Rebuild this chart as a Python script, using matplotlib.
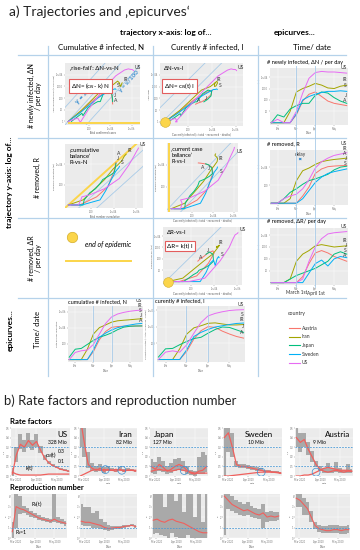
import matplotlib
matplotlib.use('Agg')
import matplotlib.pyplot as plt
from matplotlib.lines import Line2D
import numpy as np

# ---------------- data ----------------
countries = ['Austria', 'Iran', 'Japan', 'Sweden', 'US']
short_labels = ['A', 'IR', 'J', 'S', 'US']
country_colors = ['#F8766D', '#A3A500', '#00BF7D', '#00B0F6', '#E76BF3']

days = [0, 10, 20, 30, 40, 50, 60, 70, 80, 90, 100, 110, 120]   # days since 22 Jan
month_ticks = [10, 39, 70, 100]
month_labels = ['Feb', 'Mar', 'Apr', 'May']
marker_days = [39, 70]          # March 1st, April 1st
marker_labels = ['March 1st', 'April 1st']

# log10 cumulative infected N
N_austria = [0, 0, 0, 0, 1.0, 2.5, 3.5, 4.03, 4.13, 4.17, 4.19, 4.2, 4.21]
N_iran = [0, 0, 0, 1.3, 3.2, 4.0, 4.33, 4.68, 4.85, 4.92, 4.98, 5.05, 5.11]
N_japan = [0.3, 1.3, 1.4, 1.9, 2.4, 2.8, 3.04, 3.34, 3.74, 4.05, 4.16, 4.2, 4.21]
N_sweden = [0, 0, 0, 0, 1.2, 2.8, 3.3, 3.7, 3.99, 4.18, 4.32, 4.45, 4.52]
N_us = [0, 0.9, 1.1, 1.2, 1.9, 3.2, 4.5, 5.33, 5.7, 5.9, 6.04, 6.13, 6.2]

# log10 currently infected I
I_austria = [0, 0, 0, 0, 1.0, 2.5, 3.5, 4.0, 3.9, 3.45, 3.1, 2.8, 2.6]
I_iran = [0, 0, 0, 1.3, 3.1, 3.85, 4.1, 4.4, 4.45, 4.32, 4.2, 4.2, 4.25]
I_japan = [0.3, 1.3, 1.35, 1.8, 2.2, 2.55, 2.7, 3.2, 3.65, 3.95, 3.9, 3.6, 3.3]
I_sweden = [0, 0, 0, 0, 1.2, 2.8, 3.3, 3.65, 3.95, 4.1, 4.25, 4.38, 4.43]
I_us = [0, 0.9, 1.05, 0.9, 1.8, 3.2, 4.5, 5.3, 5.6, 5.8, 5.95, 6.02, 6.05]

# log10 newly infected per day dN
dN_austria = [0, 0, 0, 0, 0.7, 1.9, 2.5, 2.7, 2.3, 1.9, 1.7, 1.6, 1.5]
dN_iran = [0, 0, 0, 1.0, 2.7, 3.0, 3.2, 3.45, 3.3, 3.05, 3.0, 3.2, 3.3]
dN_japan = [0, 0.7, 0.5, 1.2, 1.5, 1.7, 1.7, 2.4, 2.7, 2.6, 2.2, 1.9, 1.7]
dN_sweden = [0, 0, 0, 0, 0.8, 2.0, 2.3, 2.5, 2.65, 2.75, 2.75, 2.8, 2.75]
dN_us = [0, 0.3, 0, 0, 1.0, 2.6, 3.9, 4.4, 4.5, 4.45, 4.45, 4.4, 4.35]

# log10 removed R
R_austria = [0, 0, 0, 0, 0, 0.8, 1.8, 3.3, 3.8, 4.05, 4.12, 4.16, 4.18]
R_iran = [0, 0, 0, 0.5, 2.5, 3.6, 3.9, 4.3, 4.6, 4.75, 4.85, 4.92, 5.0]
R_japan = [0, 0, 0.5, 1.2, 1.6, 2.1, 2.5, 2.7, 2.95, 3.2, 3.7, 4.0, 4.1]
R_sweden = [0, 0, 0, 0, 0, 0.5, 1.4, 2.3, 2.9, 3.3, 3.5, 3.65, 3.8]
R_us = [0, 0, 0.5, 0.8, 1.0, 1.6, 2.6, 3.9, 4.6, 5.0, 5.3, 5.45, 5.6]

# log10 removed per day dR
dR_austria = [0, 0, 0, 0, 0, 0.5, 1.6, 2.5, 2.7, 2.5, 2.2, 2.0, 1.8]
dR_iran = [0, 0, 0, 0.3, 1.8, 2.4, 2.7, 3.1, 3.2, 3.1, 3.0, 3.05, 3.1]
dR_japan = [0, 0, 0, 0.3, 0.6, 0.8, 1.0, 1.2, 1.5, 1.8, 2.4, 2.6, 2.4]
dR_sweden = [0, 0, 0, 0, 0, 0, 0.8, 1.6, 1.9, 1.4, 2.0, 2.2, 2.1]
dR_us = [0, 0, 0, 0, 0, 0.3, 1.8, 3.0, 3.7, 4.1, 4.2, 4.25, 4.3]

end_point = (0, 0)

# ---- part b: rate factors and reproduction number ----
b_countries = ['US', 'Iran', 'Japan', 'Sweden', 'Austria']
b_population = ['328 Mio', '82 Mio', '127 Mio', '10 Mio', '9 Mio']
rate_days = [0, 6, 12, 18, 24, 30, 36, 42, 48, 54, 60, 66, 72, 78, 84]
rate_ticks = [5, 36, 66]
rate_tick_labels = ['Mar 2020', 'Apr 2020', 'May 2020']
rate_levels = [0.3, 0.1]

c_us = [0.02, 0.22, 0.33, 0.30, 0.37, 0.32, 0.36, 0.27, 0.19, 0.14, 0.11, 0.09, 0.07, 0.06, 0.05]
k_us = [0.04, 0.02, 0.01, 0.01, 0.01, 0.01, 0.01, 0.01, 0.015, 0.02, 0.02, 0.02, 0.02, 0.02, 0.02]
clo_us = [0.0, 0.15, 0.28, 0.25, 0.30, 0.27, 0.30, 0.24, 0.17, 0.12, 0.10, 0.08, 0.06, 0.05, 0.04]
chi_us = [0.08, 0.30, 0.44, 0.38, 0.45, 0.38, 0.44, 0.31, 0.22, 0.16, 0.12, 0.10, 0.08, 0.07, 0.06]

c_iran = [0.60, 0.35, 0.12, 0.08, 0.06, 0.08, 0.05, 0.07, 0.06, 0.05, 0.07, 0.05, 0.06, 0.06, 0.05]
k_iran = [0.0, 0.02, 0.04, 0.06, 0.07, 0.06, 0.07, 0.06, 0.06, 0.07, 0.06, 0.06, 0.06, 0.06, 0.06]
clo_iran = [0.30, 0.20, 0.08, 0.05, 0.04, 0.05, 0.03, 0.05, 0.05, 0.04, 0.06, 0.04, 0.05, 0.05, 0.04]
chi_iran = [0.60, 0.60, 0.25, 0.14, 0.10, 0.12, 0.09, 0.10, 0.08, 0.07, 0.09, 0.07, 0.08, 0.07, 0.06]

c_japan = [0.10, 0.07, 0.12, 0.09, 0.05, 0.07, 0.10, 0.12, 0.10, 0.06, 0.03, 0.02, 0.05, 0.06, 0.10]
k_japan = [0.05, 0.06, 0.07, 0.06, 0.06, 0.05, 0.06, 0.07, 0.06, 0.05, 0.04, 0.03, 0.03, 0.03, 0.03]
clo_japan = [0.03, 0.02, 0.05, 0.04, 0.02, 0.03, 0.05, 0.06, 0.05, 0.02, 0.01, 0.0, 0.02, 0.02, 0.04]
chi_japan = [0.18, 0.15, 0.20, 0.16, 0.10, 0.14, 0.18, 0.19, 0.16, 0.10, 0.06, 0.05, 0.20, 0.25, 0.22]

c_sweden = [0.40, 0.45, 0.30, 0.12, 0.10, 0.10, 0.09, 0.08, 0.07, 0.06, 0.05, 0.05, 0.04, 0.04, 0.03]
k_sweden = [0.0, 0.0, 0.005, 0.01, 0.015, 0.02, 0.025, 0.03, 0.035, 0.04, 0.04, 0.04, 0.04, 0.035, 0.03]
clo_sweden = [0.0, 0.25, 0.20, 0.09, 0.08, 0.08, 0.07, 0.06, 0.05, 0.05, 0.04, 0.04, 0.03, 0.03, 0.02]
chi_sweden = [0.5, 0.5, 0.45, 0.16, 0.12, 0.12, 0.11, 0.10, 0.09, 0.08, 0.06, 0.06, 0.05, 0.05, 0.04]

c_austria = [0.40, 0.35, 0.38, 0.28, 0.20, 0.12, 0.07, 0.05, 0.04, 0.05, 0.06, 0.05, 0.04, 0.05, 0.05]
k_austria = [0.0, 0.0, 0.01, 0.01, 0.02, 0.04, 0.06, 0.08, 0.09, 0.08, 0.07, 0.06, 0.06, 0.06, 0.05]
clo_austria = [0.30, 0.25, 0.30, 0.22, 0.15, 0.09, 0.05, 0.03, 0.03, 0.03, 0.04, 0.03, 0.03, 0.03, 0.03]
chi_austria = [0.50, 0.45, 0.45, 0.35, 0.26, 0.16, 0.10, 0.08, 0.14, 0.08, 0.15, 0.08, 0.06, 0.12, 0.07]

crossings_us = []
crossings_iran = [38, 63]
crossings_japan = [50]
crossings_sweden = [55]
crossings_austria = [30]

Rt_us = [0.6, 3.0, 2.8, 2.7, 2.5, 2.3, 2.1, 1.9, 1.8, 1.7, 1.6, 1.8, 1.6, 1.5, 1.4]
Rlo_us = [0.0, 1.0, 2.3, 2.4, 2.2, 2.0, 1.9, 1.7, 1.6, 1.5, 1.4, 1.5, 1.4, 1.3, 1.1]
Rhi_us = [1.5, 4.2, 4.0, 3.1, 2.9, 2.6, 2.4, 2.2, 2.0, 1.9, 1.8, 4.2, 2.0, 1.8, 1.6]
Rt_iran = [1.6, 1.5, 1.5, 1.4, 1.3, 1.2, 1.0, 0.9, 0.95, 1.0, 1.0, 1.1, 1.15, 1.2, 1.1]
Rlo_iran = [1.2, 1.1, 1.1, 1.0, 1.0, 0.9, 0.8, 0.7, 0.8, 0.85, 0.9, 1.0, 1.05, 1.1, 1.0]
Rhi_iran = [3.2, 3.0, 3.0, 2.4, 2.6, 1.8, 1.5, 1.2, 1.1, 1.1, 1.1, 1.2, 1.25, 1.3, 1.2]
Rt_japan = [1.7, 1.8, 1.6, 1.5, 1.7, 1.8, 1.6, 1.5, 1.4, 1.2, 1.0, 0.8, 0.6, 0.5, 0.5]
Rlo_japan = [0.4, 0.5, 0.3, 0.2, 0.0, 0.5, 0.1, 0.0, 0.0, 0.3, 0.0, 0.0, 0.0, 0.0, 0.0]
Rhi_japan = [4.2, 4.2, 4.2, 3.0, 4.2, 4.2, 3.5, 4.2, 2.5, 4.2, 4.2, 2.0, 4.2, 1.5, 4.2]
Rt_sweden = [4.0, 3.6, 3.2, 3.0, 2.8, 2.6, 2.7, 2.5, 2.3, 2.2, 2.4, 2.0, 2.1, 2.0, 2.1]
Rlo_sweden = [0.3, 2.8, 2.6, 2.4, 2.2, 2.1, 2.2, 2.0, 1.9, 1.8, 1.0, 1.5, 1.6, 1.6, 1.7]
Rhi_sweden = [4.2, 4.2, 4.0, 3.6, 3.4, 3.2, 3.4, 3.1, 2.9, 2.8, 3.2, 2.5, 2.6, 2.5, 2.5]
Rt_austria = [3.8, 3.6, 3.2, 2.8, 2.0, 1.2, 0.9, 0.8, 0.7, 0.7, 0.8, 0.8, 0.7, 0.8, 0.8]
Rlo_austria = [3.0, 3.0, 2.2, 2.2, 1.5, 0.9, 0.6, 0.5, 0.5, 0.5, 0.5, 0.5, 0.4, 0.4, 0.5]
Rhi_austria = [4.2, 4.2, 3.8, 3.4, 2.6, 1.5, 1.2, 1.1, 1.1, 1.2, 1.2, 1.2, 1.1, 1.1, 1.2]
R_threshold = 1.0

# ---------------- figure ----------------
plt.rcParams['font.family'] = ['Lato', 'DejaVu Sans']
W, H = 360, 550
fig = plt.figure(figsize=(W / 100, H / 100), dpi=100)
fig.patch.set_facecolor('white')

GRID_BLUE = '#b5d2ea'
DIAG_BLUE = '#a8cbe8'
TXT_BLUE = '#3b8fd0'
PANEL_BG = '#ebebeb'
YELLOW = '#fbd54a'
YELLOW_EDGE = '#d4ae2a'
RED = '#f0605d'


def axp(x0, y0, x1, y1):
    return fig.add_axes([x0 / W, 1 - y1 / H, (x1 - x0) / W, (y1 - y0) / H])


def ftext(x, y, s, **kw):
    return fig.text(x / W, 1 - y / H, s, **kw)


def fline(xs, ys, **kw):
    fig.add_artist(Line2D([x / W for x in xs], [1 - y / H for y in ys],
                          transform=fig.transFigure, **kw))


def style(ax, xlabel='', ylabel=''):
    ax.set_facecolor(PANEL_BG)
    for s in ax.spines.values():
        s.set_visible(False)
    ax.grid(True, color='white', lw=0.35)
    ax.set_axisbelow(True)
    ax.tick_params(labelsize=1.8, length=0.8, width=0.3, pad=0.6, colors='#777777')
    ax.set_xlabel(xlabel, fontsize=2, labelpad=0.4, color='#555555')
    ax.set_ylabel(ylabel, fontsize=1.7, labelpad=0.5, color='#555555')


def log_ticks(ax, axis, vals):
    labs = ['1e+%02d' % v if v >= 4 else str(int(10 ** v)) for v in vals]
    if axis == 'x':
        ax.set_xticks(vals)
        ax.set_xticklabels(labs)
    else:
        ax.set_yticks(vals)
        ax.set_yticklabels(labs)


def place(xf, yf, gap, xgap):
    """push label positions (axes fractions) upward to avoid collisions"""
    order = np.argsort(yf)
    out = np.array(yf, dtype=float)
    placed = []
    for i in order:
        y = out[i]
        for j in sorted(placed, key=lambda q: out[q]):
            if abs(xf[i] - xf[j]) < xgap and y < out[j] + gap and y > out[j] - gap:
                y = out[j] + gap
        out[i] = y
        placed.append(i)
    return out


def traj(ax, xs_list, ys_list, xlim, ylim, wpx, hpx, dx=0.12, dy=1.0):
    ax.set_xlim(*xlim)
    ax.set_ylim(*ylim)
    for xs, ys, c in zip(xs_list, ys_list, country_colors):
        ax.plot(xs, ys, color=c, lw=0.7, solid_joinstyle='round')
    lx = [(xs[-1] - xlim[0]) / (xlim[1] - xlim[0]) for xs in xs_list]
    ly = [(ys[-1] - ylim[0]) / (ylim[1] - ylim[0]) + dy / hpx for ys in ys_list]
    pos = place(lx, ly, 4.5 / hpx, 6.0 / wpx)
    tr = ax.get_xaxis_transform()
    for xs, p, lab in zip(xs_list, pos, short_labels):
        ax.text(xs[-1] + dx, p, lab, transform=tr, fontsize=3.6, color='#333333',
                ha='left', va='bottom')


def epi(ax, ys_list, ylim, yt, hpx):
    for ys, c in zip(ys_list, country_colors):
        ax.plot(days, ys, color=c, lw=0.7)
    ax.set_xlim(-2, 122)
    ax.set_ylim(*ylim)
    last = [(ys[-1] - ylim[0]) / (ylim[1] - ylim[0]) + 3.0 / hpx for ys in ys_list]
    pos = place([1.0] * len(last), last, 5.0 / hpx, 1.0)
    for p, lab in zip(pos, short_labels):
        ax.text(0.985, p, lab, transform=ax.transAxes, fontsize=3.6, color='#333333',
                ha='right', va='bottom')
    ax.set_xticks(month_ticks)
    ax.set_xticklabels(month_labels)
    log_ticks(ax, 'y', yt)


def end_circle(ax):
    ax.plot([end_point[0]], [end_point[1]], marker='o', ms=7, mfc=YELLOW,
            mec=YELLOW_EDGE, mew=0.4, clip_on=False, zorder=5)


def diag(ax, offsets):
    for o in offsets:
        ax.axline((0, o), slope=1, color=DIAG_BLUE, lw=0.6, zorder=1)


def redbox(ax, x, y, s):
    ax.text(x, y, s, transform=ax.transAxes, fontsize=4.5, va='center', ha='left',
            bbox=dict(boxstyle='square,pad=0.35', fc='white', ec='#e35d5d', lw=0.8))


def intext(ax, x, y, s, fs=4.3):
    ax.text(x, y, s, transform=ax.transAxes, fontsize=fs, va='top', ha='left', linespacing=1.35)


Ns = [N_austria, N_iran, N_japan, N_sweden, N_us]
Is = [I_austria, I_iran, I_japan, I_sweden, I_us]
dNs = [dN_austria, dN_iran, dN_japan, dN_sweden, dN_us]
Rs = [R_austria, R_iran, R_japan, R_sweden, R_us]
dRs = [dR_austria, dR_iran, dR_japan, dR_sweden, dR_us]

# ---------- headers & grid ----------
ftext(9, 12, 'a) Trajectories and \u201aepicurves\u2018', fontsize=10.0, va='center', ha='left', color='#222222')
ftext(166, 33, 'trajectory x-axis: log of...', fontsize=6.0, fontweight='bold', ha='center', va='center')
ftext(295, 33, 'epicurves...', fontsize=6.0, fontweight='bold', ha='center', va='center')
ftext(101, 47.5, 'Cumulative # infected, N', fontsize=5.7, ha='center', va='center')
ftext(207, 47, 'Curently # infected, I', fontsize=5.7, ha='center', va='center')
ftext(312, 47.5, 'Time/ date', fontsize=5.7, ha='center', va='center')

for yy in [55, 138, 218, 298]:
    fline([18, 346], [yy, yy], color=GRID_BLUE, lw=0.9)
for xx in [48, 153, 258]:
    fline([xx, xx], [46, 376], color=GRID_BLUE, lw=0.9)

ftext(10, 182, 'trajectory y-axis: log of...', fontsize=6.0, fontweight='bold', rotation=90, ha='center', va='center')
ftext(10, 330, 'epicurves...', fontsize=6.0, fontweight='bold', rotation=90, ha='center', va='center')
ftext(35, 96, '# newly infected, \u0394N\n/ per day', fontsize=5.0, rotation=90, ha='center', va='center', linespacing=1.1)
ftext(37, 178, '# removed, R', fontsize=5.0, rotation=90, ha='center', va='center')
ftext(35, 258, '# removed, \u0394R\n/ per day', fontsize=5.0, rotation=90, ha='center', va='center', linespacing=1.1)
ftext(37, 330, 'Time/ date', fontsize=5.5, rotation=90, ha='center', va='center')

# ---------- row 1 ----------
ax = axp(65, 63, 140, 125)
style(ax, 'Total confirmed cases', 'New confirmed cases (7-day mean)')
diag(ax, [1.5, 0, -2])
ax.axhline(-0.15, xmin=0.05, xmax=1, color=YELLOW, lw=1.4, zorder=2)
traj(ax, Ns, dNs, (-0.3, 6.8), (-0.3, 5.0), 75, 62)
log_ticks(ax, 'x', [2, 4, 6]); log_ticks(ax, 'y', [0, 1, 2, 3, 4])
ax.text(1.0, 1.5, 'y = x', color=TXT_BLUE, fontsize=5, fontweight='bold', rotation=45,
        transform_rotates_text=True, rotation_mode='anchor')
ax.text(5.0, 2.5, 'y = x/100', color=TXT_BLUE, fontsize=4.5, fontweight='bold', rotation=45,
        transform_rotates_text=True, rotation_mode='anchor')
intext(ax, 0.06, 0.95, '\u201arise-fall\u2018: \u0394N-vs-N')
redbox(ax, 0.08, 0.63, '\u0394N= (c$_N$- k) N')

ax = axp(160, 63, 243, 126)
style(ax, 'Currently infected (= total - recovered - deaths)', 'New cases')
diag(ax, [1.6, 0.2])
traj(ax, Is, dNs, (-0.4, 6.6), (-0.35, 5.0), 83, 63)
end_circle(ax)
log_ticks(ax, 'x', [2, 4, 6]); log_ticks(ax, 'y', [0, 1, 2, 3, 4])
intext(ax, 0.05, 0.95, '\u0394N-vs-I')
redbox(ax, 0.05, 0.63, '\u0394N= c$_N$(t) I')

ax = axp(270, 68, 348, 125)
style(ax, 'Date', 'New confirmed cases per day (log)')
epi(ax, dNs, (-0.2, 4.8), [1, 2, 3, 4], 57)
ftext(267, 62.5, '# newly infected, \u0394N / per day', fontsize=4.1, ha='left', va='center')
col3_axes = [ax]

# ---------- row 2 ----------
ax = axp(65, 144, 143, 208)
style(ax, 'Total number cumulative', 'Removed cumulative (log)')
diag(ax, [-1.2, -2.8])
ax.axline((0, 0), slope=1, color=YELLOW, lw=1.4, zorder=2)
traj(ax, Ns, Rs, (-0.3, 6.6), (-0.3, 6.0), 78, 64)
log_ticks(ax, 'x', [2, 4, 6]); log_ticks(ax, 'y', [2, 4])
intext(ax, 0.06, 0.95, '\u201acumulative\nbalance\u2018\nR-vs-N')

ax = axp(167, 143, 238, 212)
style(ax, 'Currently infected (= total - recovered - deaths)', 'Removed cumulative (log)')
diag(ax, [0.3, -1.2])
ax.axvline(-0.2, color=YELLOW, lw=1.4, zorder=2)
traj(ax, Is, Rs, (-0.4, 6.4), (-0.3, 6.0), 71, 69, dx=0.25, dy=-7.0)
log_ticks(ax, 'x', [2, 4, 6]); log_ticks(ax, 'y', [2, 4])
intext(ax, 0.06, 0.95, '\u201acurrent case\nballance\u2018\nR-vs-I', fs=4.1)

ax = axp(270, 150, 348, 205)
style(ax, 'Date', 'Removed cumulative (log)')
epi(ax, Rs, (-0.2, 5.9), [2, 4], 55)
ax.annotate('', xy=(53, 4.9), xytext=(39, 4.9),
            arrowprops=dict(arrowstyle='<->', color=TXT_BLUE, lw=0.6, mutation_scale=3))
ax.text(46, 5.15, 'delay', fontsize=3.4, ha='center', va='bottom', color='#333333')
ftext(267, 144, '# removed, R', fontsize=4.1, ha='left', va='center')
col3_axes.append(ax)

# ---------- row 3 ----------
fig.add_artist(Line2D([72 / W], [1 - 237 / H], marker='o', ms=7.5, mfc=YELLOW, mec=YELLOW_EDGE,
                      mew=0.5, transform=fig.transFigure))
ftext(85, 244, 'end of epidemic', fontsize=5.0, style='italic', ha='left', va='center')
fline([66, 131], [261, 261], color=YELLOW, lw=1.4)

ax = axp(163, 227, 242, 285)
style(ax, 'Currently infected (= total - recovered - deaths)', 'Removed per day (log)')
diag(ax, [0.2])
traj(ax, Is, dRs, (-0.4, 6.4), (-0.3, 4.8), 79, 58)
end_circle(ax)
log_ticks(ax, 'x', [2, 4, 6]); log_ticks(ax, 'y', [1, 2, 3, 4])
intext(ax, 0.05, 0.95, '\u0394R-vs-I')
redbox(ax, 0.05, 0.67, '\u0394R= k(t) I')

ax = axp(270, 228, 348, 285)
style(ax, '', 'Removed per day (log)')
epi(ax, dRs, (-0.2, 4.6), [1, 2, 3, 4], 57)
ftext(267, 222, '# removed, \u0394R/ per day', fontsize=4.1, ha='left', va='center')
col3_axes.append(ax)

# continuous date marker lines through column 3
x0, x1 = col3_axes[0].get_xlim()
for d, lab in zip(marker_days, marker_labels):
    xf = (270 + (d - x0) / (x1 - x0) * 78)
    fline([xf, xf], [66, 287], color=DIAG_BLUE, lw=0.6)
    ftext(xf + 1, 293, lab, fontsize=3.4, ha='center', va='center', color='#333333')

# ---------- row 4 ----------
ax = axp(68, 306, 143, 362)
style(ax, 'Date', 'Total number cumulative')
epi(ax, Ns, (-0.3, 6.7), [2, 4, 6], 56)
for d in marker_days:
    ax.axvline(d, color=DIAG_BLUE, lw=0.6)
ftext(68, 302, 'cumulative # infected, N', fontsize=4.0, ha='left', va='center')

ax = axp(157, 306, 245, 362)
style(ax, 'Date', 'Currently infected (= total - recovered - deaths)')
epi(ax, Is, (-0.3, 6.5), [2, 4, 6], 56)
for d in marker_days:
    ax.axvline(d, color=DIAG_BLUE, lw=0.6)
ftext(155, 302, 'curently # infected, I', fontsize=4.0, ha='left', va='center')

# legend
ftext(288, 313, 'country', fontsize=3.8, ha='left', va='center', color='#333333')
for j, (name, col) in enumerate(zip(countries, country_colors)):
    yy = 328 + j * 8.7
    fline([289, 300], [yy, yy], color=col, lw=0.8)
    ftext(302, yy, name, fontsize=3.6, ha='left', va='center', color='#333333')

# ---------- part b ----------
ftext(4, 401, 'b) Rate factors and reproduction number', fontsize=9.4, ha='left', va='center', color='#222222')
ftext(10, 422, 'Rate factors', fontsize=5.6, fontweight='bold', ha='left', va='center')
ftext(10, 487.5, 'Reproduction number', fontsize=5.4, fontweight='bold', ha='left', va='center')

rate_c = [c_us, c_iran, c_japan, c_sweden, c_austria]
rate_k = [k_us, k_iran, k_japan, k_sweden, k_austria]
rate_lo = [clo_us, clo_iran, clo_japan, clo_sweden, clo_austria]
rate_hi = [chi_us, chi_iran, chi_japan, chi_sweden, chi_austria]
crossings = [crossings_us, crossings_iran, crossings_japan, crossings_sweden, crossings_austria]
R_t = [Rt_us, Rt_iran, Rt_japan, Rt_sweden, Rt_austria]
R_lo = [Rlo_us, Rlo_iran, Rlo_japan, Rlo_sweden, Rlo_austria]
R_hi = [Rhi_us, Rhi_iran, Rhi_japan, Rhi_sweden, Rhi_austria]

rate_x = [(11, 70), (79, 137), (150, 208), (223, 282), (295, 353)]
rep_x = [(11, 67), (80, 137), (152, 208), (223, 280), (295, 350)]
name_pos = [(0.95, 0.94, 'right', 0.95, 'right'), (0.92, 0.94, 'right', 0.92, 'right'),
            (0.06, 0.94, 'left', 0.06, 'left'), (0.85, 0.94, 'right', 0.55, 'center'),
            (0.95, 0.94, 'right', 0.42, 'center')]

for i in range(5):
    ax = axp(rate_x[i][0], 428, rate_x[i][1], 476)
    style(ax, 'Date', 'c, k')
    ax.xaxis.label.set_fontsize(1.7)
    ax.yaxis.label.set_fontsize(1.5)
    ax.fill_between(rate_days, rate_lo[i], rate_hi[i], color='#a9a9a9', step='mid', lw=0)
    ax.plot(rate_days, rate_c[i], color=RED, lw=0.9)
    ax.plot(rate_days, rate_k[i], color=RED, lw=0.9)
    for lvl in rate_levels:
        ax.axhline(lvl, color='#4a9ad6', lw=0.6, ls=(0, (2, 1.5)))
    if crossings[i]:
        ax.scatter(crossings[i], np.interp(crossings[i], rate_days, rate_k[i]), s=32,
                   facecolors='none', edgecolors=TXT_BLUE, lw=0.5, zorder=5)
    ax.set_xlim(-2, 86); ax.set_ylim(0, 0.5)
    ax.set_xticks(rate_ticks); ax.set_xticklabels(rate_tick_labels)
    ax.set_yticks([0, 0.1, 0.2, 0.3, 0.4, 0.5])
    nx, ny, nha, px, pha = name_pos[i]
    ax.text(nx, ny, b_countries[i], transform=ax.transAxes, fontsize=5.8, ha=nha, va='top')
    ax.text(px, 0.76, b_population[i], transform=ax.transAxes, fontsize=3.6, ha=pha, va='top')
    if i == 0:
        ytr = ax.get_yaxis_transform()
        ax.text(0.86, rate_levels[0] - 0.015, '%.1f' % rate_levels[0], transform=ytr,
                fontsize=3.6, ha='center', va='top')
        ax.text(0.86, rate_levels[1] + 0.02, '%.1f' % rate_levels[1], transform=ytr,
                fontsize=3.6, ha='center', va='bottom')
        ax.text(0.58, 0.40, 'c$_N$(t)', transform=ax.transAxes, fontsize=3.8, ha='left')
        ax.text(0.25, 0.12, 'k(t)', transform=ax.transAxes, fontsize=3.8, ha='left')

for i in range(5):
    ax = axp(rep_x[i][0], 494, rep_x[i][1], 538)
    style(ax, 'Date', 'R')
    ax.yaxis.label.set_fontsize(1.5)
    ax.fill_between(rate_days, R_lo[i], R_hi[i], color='#a9a9a9', step='mid', lw=0)
    ax.plot(rate_days, R_t[i], color=RED, lw=0.8)
    ax.axhline(R_threshold, color='#4a9ad6', lw=0.6, ls=(0, (2, 1.5)))
    ax.set_xlim(-2, 86); ax.set_ylim(0, 4.2)
    ax.set_xticks(rate_ticks); ax.set_xticklabels(rate_tick_labels)
    ax.set_yticks([0, 1, 2, 3, 4])
    if i == 0:
        ax.text(0.36, 0.72, 'R$_t$(t)', transform=ax.transAxes, fontsize=3.8, ha='left')
        ax.text(0.08, 0.08, 'R$_t$=1', transform=ax.transAxes, fontsize=3.8, ha='left')

fig.savefig('out.png', dpi=100, facecolor='white')
